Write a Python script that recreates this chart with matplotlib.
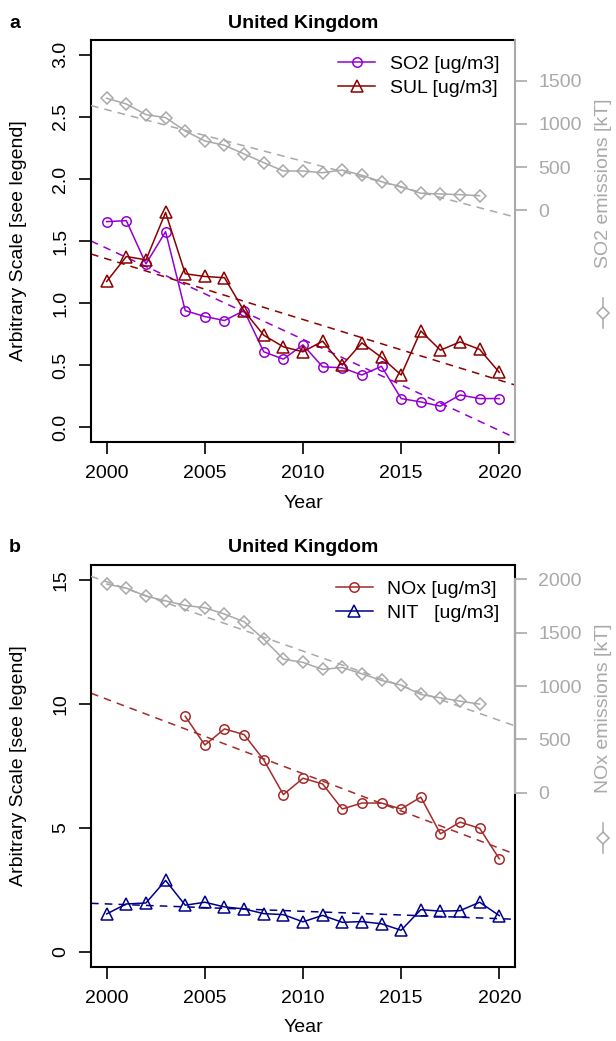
import numpy as np
import matplotlib
matplotlib.use("Agg")
import matplotlib.pyplot as plt
from matplotlib.lines import Line2D

plt.rcParams['font.family'] = ['Liberation Sans', 'DejaVu Sans']

# dados
years = np.arange(2000, 2021)
years_em = np.arange(2000, 2020)
years_nox = np.arange(2004, 2021)

so2 = [1.656, 1.664, 1.316, 1.575, 0.939, 0.891, 0.859, 0.939, 0.607, 0.548, 0.663,
       0.486, 0.478, 0.420, 0.490, 0.230, 0.203, 0.169, 0.259, 0.230, 0.230]
sul = [1.174, 1.375, 1.348, 1.730, 1.236, 1.214, 1.204, 0.936, 0.741, 0.647, 0.607,
       0.693, 0.500, 0.679, 0.562, 0.420, 0.775, 0.620, 0.687, 0.626, 0.441]
so2_emis = [1296, 1230, 1107, 1072, 918, 802, 752, 652, 551, 455,
            455, 435, 466, 405, 331, 273, 197, 189, 181, 169]

nox = [9.50, 8.34, 8.99, 8.76, 7.74, 6.34, 7.00, 6.77, 5.76, 6.00, 6.00,
       5.76, 6.24, 4.76, 5.23, 4.98, 3.75]
nit = [1.53, 1.93, 1.97, 2.88, 1.88, 2.00, 1.81, 1.73, 1.54, 1.50, 1.21,
       1.47, 1.19, 1.22, 1.13, 0.87, 1.70, 1.64, 1.66, 2.00, 1.46]
nox_emis = [1956, 1918, 1843, 1799, 1756, 1734, 1675, 1603, 1440, 1253,
            1222, 1156, 1175, 1115, 1053, 1009, 922, 890, 859, 831]

gray = '#A9A9A9'
purple = '#9400D3'
darkred = '#8B0000'
brown = '#A52A2A'
navy = '#00008B'

W, H = 616, 1041
fig = plt.figure(figsize=(W / 100, H / 100), dpi=100)


def trend(ax, x, y, color):
    k, b = np.polyfit(x, y, 1)
    ax.axline((2000, k * 2000 + b), slope=k, color=color, lw=1.1,
              linestyle=(0, (5, 4)))


def painel(top_px, bottom_px, series, emis, ylim, ylim2, yticks, yfmt,
           rticks, rlabel, letter, legend_labels, full_gray):
    ax = fig.add_axes([91 / W, 1 - bottom_px / H, (515 - 91) / W, (bottom_px - top_px) / H])
    ax2 = ax.twinx()
    for (x, y, c, m, ms) in series:
        ax.plot(x, y, color=c, marker=m, ms=ms, mfc='none', mew=1.1, lw=1.1)
        trend(ax, x, y, c)
    ax2.plot(years_em, emis, color=gray, marker='D', ms=6.3, mfc='none', mew=1.1, lw=1.1)
    trend(ax2, years_em, emis, gray)

    ax.set_xlim(1999.2, 2020.8)
    ax.set_ylim(*ylim)
    ax2.set_ylim(*ylim2)
    ax.set_xticks([2000, 2005, 2010, 2015, 2020])
    ax.set_yticks(yticks)
    ax.set_yticklabels([yfmt % v for v in yticks], rotation=90, va='center')
    ax.tick_params(labelsize=14, length=8.6, width=1.2, pad=7)
    ax.tick_params(axis='x', pad=8)
    ax2.set_yticks(rticks)
    ax2.set_yticklabels([str(v) for v in rticks])
    ax2.tick_params(labelsize=14, length=8.6, width=1.2, colors=gray, pad=8)
    for s in ax.spines.values():
        s.set_linewidth(1.5)
    for s in ax2.spines.values():
        s.set_visible(False)
    ax2.spines['right'].set_visible(True)
    ax2.spines['right'].set_color(gray)
    ax2.spines['right'].set_linewidth(1.5)
    if full_gray:
        ax.spines['right'].set_visible(False)
    else:
        ax2.spines['right'].set_bounds(rticks[0], rticks[-1])

    ax.set_title('United Kingdom', fontsize=14, fontweight='bold', pad=9)
    ax.set_xlabel('Year', fontsize=14, labelpad=9)
    cy = (top_px + bottom_px) / 2
    fig.text(19 / W, 1 - cy / H, 'Arbitrary Scale [see legend]', rotation=90,
             ha='center', va='center', fontsize=14)
    fig.text(15 / W, 1 - (top_px - 17) / H, letter, fontsize=14, fontweight='bold',
             ha='center', va='center')
    fig.text(603 / W, 1 - (top_px + 143) / H, rlabel, rotation=90, ha='center',
             va='center', fontsize=14, color=gray)
    # símbolo da legenda ao lado do eixo direito
    fig.add_artist(Line2D([603 / W, 603 / W], [1 - (top_px + 258) / H, 1 - (top_px + 288) / H],
                          color=gray, lw=1.1, transform=fig.transFigure))
    fig.add_artist(Line2D([603 / W], [1 - (top_px + 273) / H], color=gray, marker='D', ms=6.3,
                          mfc='white', mew=1.1, transform=fig.transFigure))

    handles = [Line2D([], [], color=c, marker=m, ms=ms, mfc='none', mew=1.1, lw=1.1)
               for (x, y, c, m, ms) in series]
    ax.legend(handles, legend_labels, loc='upper right', frameon=False, fontsize=14,
              handlelength=1.9, handletextpad=0.75, borderaxespad=0.35, borderpad=0.45,
              labelspacing=0.3)
    return ax


painel(40, 442, [(years, so2, purple, 'o', 6.8), (years, sul, darkred, '^', 8.3)],
       so2_emis, (-0.12, 3.12), (-2680, 1970), [0, 0.5, 1, 1.5, 2, 2.5, 3], '%.1f',
       [0, 500, 1000, 1500], 'SO2 emissions [kT]', 'a',
       ['SO2 [ug/m3]', 'SUL [ug/m3]'], True)

painel(565, 966.7, [(years_nox, nox, brown, 'o', 6.8), (years, nit, navy, '^', 8.3)],
       nox_emis, (-0.6, 15.6), (-1630, 2135), [0, 5, 10, 15], '%d',
       [0, 500, 1000, 1500, 2000], 'NOx emissions [kT]', 'b',
       ['NOx [ug/m3]', 'NIT   [ug/m3]'], False)

fig.savefig('out.png', dpi=100)
